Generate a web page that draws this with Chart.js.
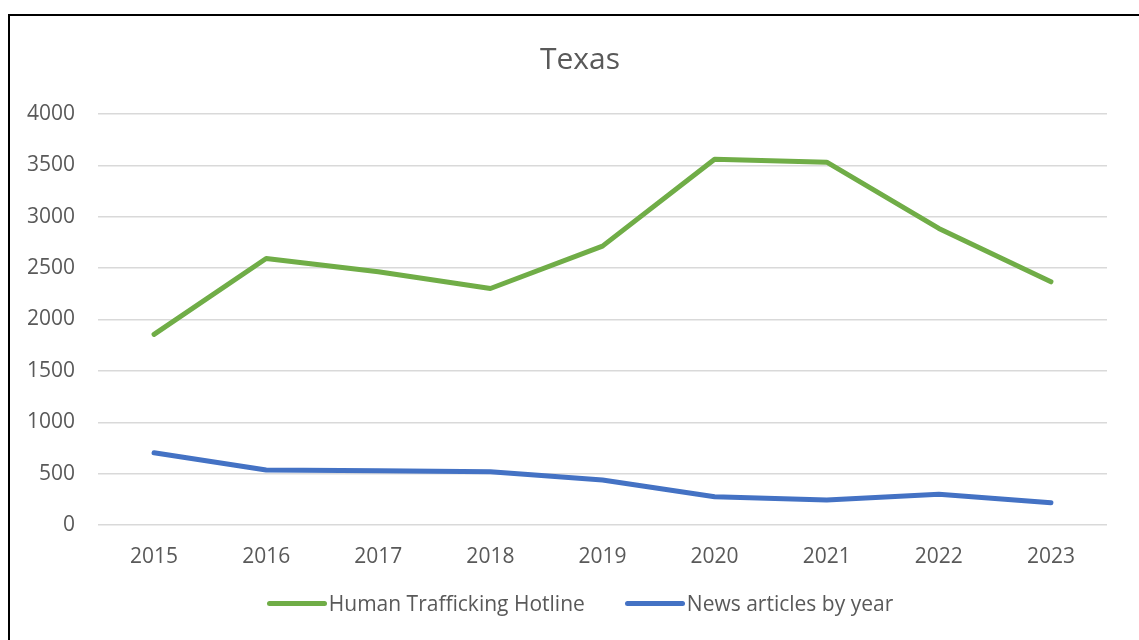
<!DOCTYPE html>
<html>
<head>
<meta charset="utf-8">
<script src="https://cdn.jsdelivr.net/npm/chart.js@4/dist/chart.umd.min.js"></script>
<style>
  html, body { margin: 0; padding: 0; background: #fff; }
  #wrap { position: relative; width: 1139px; height: 640px; overflow: hidden; font-family: 'Open Sans', 'Noto Sans', sans-serif; }
  #frame { position: absolute; left: 8px; top: 14px; width: 1200px; height: 700px; border: 2px solid #000; pointer-events: none; }
  #legend { position: absolute; left: 0; width: 1160px; top: 588px; height: 30px; display: flex; justify-content: center; align-items: center; gap: 40px; color: #595959; font-size: 21px; }
  .legend-item { display: flex; align-items: center; white-space: nowrap; }
  .legend-line { display: inline-block; width: 60px; height: 5px; border-radius: 3px; margin-right: 2px; }
</style>
</head>
<body>
<div id="wrap">
  <canvas id="texasChart" width="1139" height="640"></canvas>
  <div id="legend"></div>
  <div id="frame"></div>
</div>
<script>
const years = ["2015", "2016", "2017", "2018", "2019", "2020", "2021", "2022", "2023"];
const hotlineCases = [1855, 2594, 2464, 2302, 2714, 3560, 3531, 2886, 2367];
const newsArticles = [703, 535, 528, 518, 438, 275, 243, 299, 217];
const yTicks = [0, 500, 1000, 1500, 2000, 2500, 3000, 3500, 4000];

const textColor = "#595959";
const fontFamily = "'Open Sans', 'Noto Sans', sans-serif";

Chart.defaults.font.family = fontFamily;
Chart.defaults.color = textColor;

const texasChart = new Chart(document.getElementById("texasChart"), {
  type: "line",
  data: {
    labels: years,
    datasets: [
      { label: "Human Trafficking Hotline", data: hotlineCases, borderColor: "#70AD47", backgroundColor: "#70AD47", borderWidth: 5, pointRadius: 0, borderCapStyle: "round", borderJoinStyle: "round", tension: 0 },
      { label: "News articles by year", data: newsArticles, borderColor: "#4472C4", backgroundColor: "#4472C4", borderWidth: 5, pointRadius: 0, borderCapStyle: "round", borderJoinStyle: "round", tension: 0 },
    ],
  },
  options: {
    responsive: false,
    animation: false,
    // negative right padding keeps the title centred where the original had it
    layout: { padding: { top: 42, right: -21, bottom: 71, left: 0 } },
    plugins: {
      title: { display: true, text: "Texas", color: textColor, font: { size: 30, weight: "normal" }, padding: { top: 0, bottom: 36 } },
      legend: { display: false },
      tooltip: { enabled: false },
    },
    scales: {
      x: {
        offset: true,
        grid: { display: false, drawTicks: false },
        border: { display: false },
        ticks: { color: textColor, font: { size: 21 }, padding: 19 },
        afterFit: (scale) => { scale.height = 44; },
      },
      y: {
        min: 0,
        max: 4000,
        afterBuildTicks: (scale) => { scale.ticks = yTicks.map((value) => ({ value })); },
        grid: { color: "#D9D9D9", lineWidth: 1.5, drawTicks: false },
        border: { display: false },
        ticks: { color: textColor, font: { size: 21 }, padding: 23, callback: (value) => String(value) },
        afterFit: (scale) => { scale.width = 98; },
      },
      yRight: {
        position: "right",
        min: 0,
        max: 4000,
        grid: { display: false, drawTicks: false },
        border: { display: false },
        ticks: { display: false },
        afterFit: (scale) => { scale.width = 53; },
      },
    },
  },
});

document.getElementById("legend").innerHTML = texasChart.data.datasets.map((dataset) => `
  <span class="legend-item"><span class="legend-line" style="background:${dataset.borderColor}"></span>${dataset.label}</span>
`).join("");
</script>
</body>
</html>
